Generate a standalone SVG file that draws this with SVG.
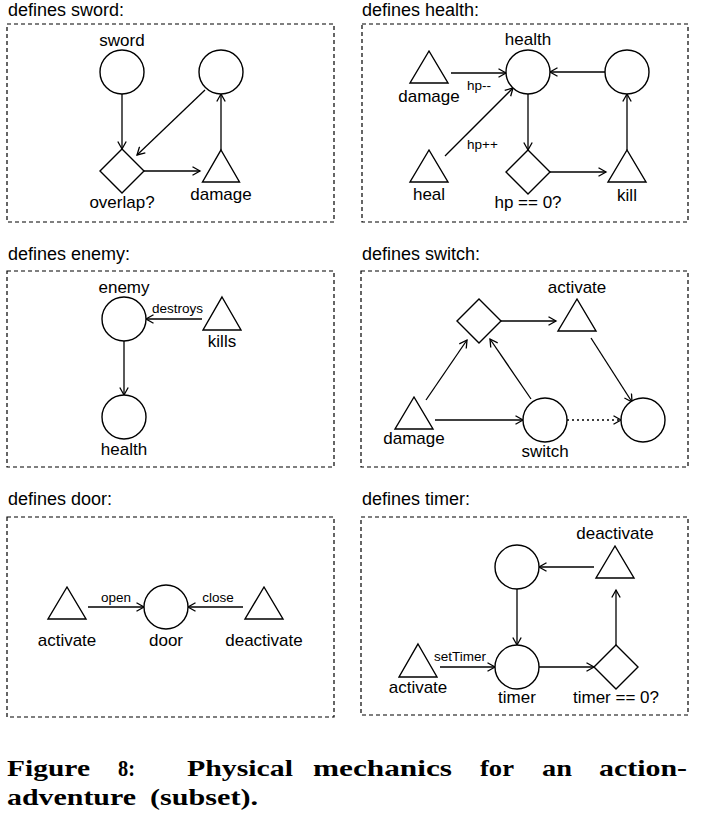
<svg xmlns="http://www.w3.org/2000/svg" width="714" height="817" viewBox="0 0 714 817">
<defs>
<style>
.box{fill:none;stroke:#000;stroke-width:1.2;stroke-dasharray:4,3}
.n{fill:#fff;stroke:#000;stroke-width:1.4}
.e{fill:none;stroke:#000;stroke-width:1.3;marker-end:url(#a)}
.d{stroke-dasharray:2,3}
.t{font-family:"Liberation Sans",Arial,sans-serif;font-size:18px;fill:#000}
.l{font-family:"Liberation Sans",Arial,sans-serif;font-size:17px;fill:#000;text-anchor:middle}
.el{font-family:"Liberation Sans",Arial,sans-serif;font-size:13.5px;fill:#000}
.cap{font-family:"Liberation Serif","Times New Roman",serif;font-size:24px;font-weight:bold;fill:#000}
</style>
<marker id="a" viewBox="0 0 12 10" markerWidth="12" markerHeight="10" refX="9" refY="5" orient="auto" markerUnits="userSpaceOnUse">
<path d="M1.5,0.8 L9,5 L1.5,9.2" fill="none" stroke="#000" stroke-width="1.3"/>
</marker>
</defs>
<rect width="714" height="817" fill="#fff"/>

<!-- panel frames and titles -->
<g id="panels">
<rect class="box" x="7" y="24" width="327" height="198"/>
<text class="t" x="8" y="16">defines sword:</text>
<rect class="box" x="362" y="24" width="326" height="198"/>
<text class="t" x="362" y="16">defines health:</text>
<rect class="box" x="7" y="271" width="327" height="196"/>
<text class="t" x="8" y="260">defines enemy:</text>
<rect class="box" x="361" y="271" width="327" height="196"/>
<text class="t" x="362" y="260">defines switch:</text>
<rect class="box" x="7" y="517" width="327" height="200"/>
<text class="t" x="8" y="505">defines door:</text>
<rect class="box" x="361" y="517" width="327" height="198"/>
<text class="t" x="362" y="505">defines timer:</text>
</g>

<g id="connectors">
<!-- sword -->
<path class="e" d="M122,94 L122,149"/>
<path class="e" d="M205,90 L137,155"/>
<path class="e" d="M144,171 L200,171"/>
<path class="e" d="M221,150 L221,94"/>
<!-- health -->
<path class="e" d="M451,73 L506,73"/>
<path class="e" d="M445,156 L513,88"/>
<path class="e" d="M528,94 L528,150"/>
<path class="e" d="M550,172 L606,172"/>
<path class="e" d="M627,150 L627,94"/>
<path class="e" d="M605,72 L550,72"/>
<!-- enemy -->
<path class="e" d="M202,319 L146,319"/>
<path class="e" d="M124,341 L124,395"/>
<!-- switch -->
<path class="e" d="M501,321 L556,321"/>
<path class="e" d="M426,400 L467,340"/>
<path class="e" d="M435,420 L523,420"/>
<path class="e" d="M531,399 L490,339"/>
<path class="e" d="M591,338 L632,402"/>
<path class="e d" d="M567,420 L621,420"/>
<!-- door -->
<path class="e" d="M88,607 L144,607"/>
<path class="e" d="M243,607 L188,607"/>
<!-- timer -->
<path class="e" d="M594,567 L539,567"/>
<path class="e" d="M517,589 L517,645"/>
<path class="e" d="M440,667 L495,667"/>
<path class="e" d="M539,667 L594,667"/>
<path class="e" d="M616,645 L616,590"/>
</g>

<g id="edge-labels">
<text class="el" x="467" y="90">hp--</text>
<text class="el" x="467" y="149">hp++</text>
<text class="el" x="152" y="313">destroys</text>
<text class="el" x="116" y="602" text-anchor="middle">open</text>
<text class="el" x="218" y="602" text-anchor="middle">close</text>
<text class="el" x="434" y="661">setTimer</text>
</g>

<!-- sword nodes -->
<g id="sword"><circle class="n" cx="122" cy="72" r="22"/><text class="l" x="122" y="46">sword</text></g>
<g id="sword-pool2"><circle class="n" cx="221" cy="72" r="22"/></g>
<g id="overlap"><path class="n" d="M122,149 L144,171 L122,193 L100,171 Z"/><text class="l" x="122" y="208">overlap?</text></g>
<g id="sword-damage"><path class="n" d="M221,150 L239.5,182 L202.5,182 Z"/><text class="l" x="221" y="200">damage</text></g>

<!-- health nodes -->
<g id="health"><circle class="n" cx="528" cy="72" r="22"/><text class="l" x="528" y="45">health</text></g>
<g id="health-pool2"><circle class="n" cx="627" cy="72" r="22"/></g>
<g id="health-damage"><path class="n" d="M429,51 L448,83 L410,83 Z"/><text class="l" x="429" y="102">damage</text></g>
<g id="heal"><path class="n" d="M429,150 L448,182 L410,182 Z"/><text class="l" x="429" y="200">heal</text></g>
<g id="hp-zero"><path class="n" d="M528,150 L550,172 L528,194 L506,172 Z"/><text class="l" x="528" y="208">hp == 0?</text></g>
<g id="kill"><path class="n" d="M627,150 L646,182 L608,182 Z"/><text class="l" x="627" y="201">kill</text></g>

<!-- enemy nodes -->
<g id="enemy"><circle class="n" cx="124" cy="319" r="22"/><text class="l" x="124" y="293">enemy</text></g>
<g id="kills"><path class="n" d="M222,297 L241,330 L203,330 Z"/><text class="l" x="222" y="347">kills</text></g>
<g id="enemy-health"><circle class="n" cx="124" cy="417" r="22"/><text class="l" x="124" y="455">health</text></g>

<!-- switch nodes -->
<g id="switch-gate"><path class="n" d="M479,299 L501,321 L479,343 L457,321 Z"/></g>
<g id="switch-activate"><path class="n" d="M577,299 L596,331 L558,331 Z"/><text class="l" x="577" y="293">activate</text></g>
<g id="switch-damage"><path class="n" d="M414,397 L433,429 L395,429 Z"/><text class="l" x="414" y="444">damage</text></g>
<g id="switch"><circle class="n" cx="545" cy="420" r="22"/><text class="l" x="545" y="457">switch</text></g>
<g id="switch-pool2"><circle class="n" cx="643" cy="420" r="22"/></g>

<!-- door nodes -->
<g id="door-activate"><path class="n" d="M67,587 L86,619 L48,619 Z"/><text class="l" x="67" y="646">activate</text></g>
<g id="door"><circle class="n" cx="166" cy="607" r="22"/><text class="l" x="166" y="646">door</text></g>
<g id="door-deactivate"><path class="n" d="M264,587 L283,619 L245,619 Z"/><text class="l" x="264" y="646">deactivate</text></g>

<!-- timer nodes -->
<g id="timer-pool2"><circle class="n" cx="517" cy="567" r="22"/></g>
<g id="timer-deactivate"><path class="n" d="M615,546 L634,578 L596,578 Z"/><text class="l" x="615" y="539">deactivate</text></g>
<g id="timer-activate"><path class="n" d="M418,644 L437,677 L399,677 Z"/><text class="l" x="418" y="693">activate</text></g>
<g id="timer"><circle class="n" cx="517" cy="667" r="22"/><text class="l" x="517" y="703">timer</text></g>
<g id="timer-zero"><path class="n" d="M616,645 L638,667 L616,689 L594,667 Z"/><text class="l" x="616" y="703">timer == 0?</text></g>

<g id="caption">
<text class="cap" y="776"><tspan x="7" textLength="83" lengthAdjust="spacingAndGlyphs">Figure</tspan><tspan x="118" textLength="17" lengthAdjust="spacingAndGlyphs">8:</tspan><tspan x="187" textLength="106" lengthAdjust="spacingAndGlyphs">Physical</tspan><tspan x="313" textLength="139" lengthAdjust="spacingAndGlyphs">mechanics</tspan><tspan x="480" textLength="34" lengthAdjust="spacingAndGlyphs">for</tspan><tspan x="542" textLength="30" lengthAdjust="spacingAndGlyphs">an</tspan><tspan x="599" textLength="88" lengthAdjust="spacingAndGlyphs">action-</tspan></text>
<text class="cap" y="805"><tspan x="7" textLength="129" lengthAdjust="spacingAndGlyphs">adventure</tspan><tspan x="150" textLength="108" lengthAdjust="spacingAndGlyphs">(subset).</tspan></text>
</g>
</svg>
